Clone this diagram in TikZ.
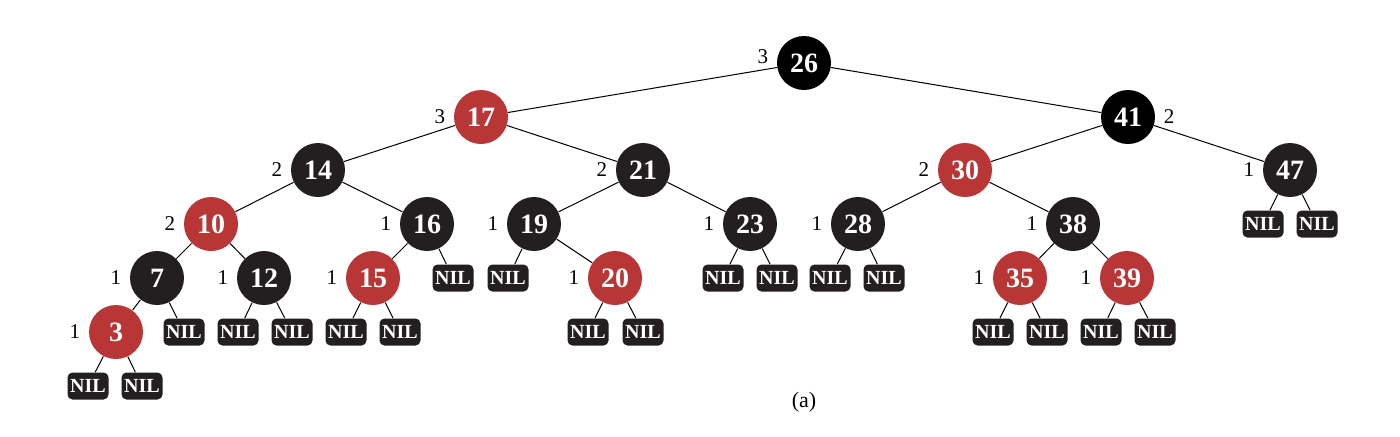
\documentclass[tikz,border=0pt]{standalone}
\usepackage{fontspec}
\setmainfont{Liberation Serif}
\definecolor{rbred}{RGB}{184,54,54}
\definecolor{rbdark}{RGB}{35,31,32}
\tikzset{
    rbnode/.style={circle, minimum size=27pt, inner sep=0pt, text=white,
        font=\fontsize{14}{14}\selectfont\bfseries},
    rednode/.style={rbnode, fill=rbred},
    blacknode/.style={rbnode, fill=rbdark},
    rootnode/.style={rbnode, fill=black},
    nilbox/.style={rectangle, rounded corners=2.5pt, fill=rbdark, text=white,
        minimum width=20.5pt, minimum height=13.5pt, inner sep=0pt,
        font=\fontsize{10}{10}\selectfont\bfseries},
    bh/.style={font=\fontsize{10.5}{10.5}\selectfont, inner sep=0pt, xshift=-4pt},
    bhr/.style={font=\fontsize{10.5}{10.5}\selectfont, inner sep=0pt, xshift=4pt},
    edge/.style={draw=black, line width=0.5pt}
}
\begin{document}
\begin{tikzpicture}[x=0.5pt, y=-0.5pt]
    \useasboundingbox (0,0) rectangle (1400,436);

    % Root
    \node[rootnode, label={[bh, yshift=3pt]left:3}] (n26) at (804,63) {26};

    % Level 1
    \node[rednode, label={[bh]left:3}] (n17) at (481,117) {17};
    \node[rootnode, label={[bhr]right:2}] (n41) at (1128,117) {41};

    % Level 2
    \node[blacknode, label={[bh]left:2}] (n14) at (318,170) {14};
    \node[blacknode, label={[bh]left:2}] (n21) at (643,170) {21};
    \node[rednode, label={[bh]left:2}] (n30) at (965,170) {30};
    \node[blacknode, label={[bh]left:1}] (n47) at (1290,170) {47};

    % Level 3
    \node[rednode, label={[bh]left:2}] (n10) at (211,224) {10};
    \node[blacknode, label={[bh]left:1}] (n16) at (427,224) {16};
    \node[blacknode, label={[bh]left:1}] (n19) at (534,224) {19};
    \node[blacknode, label={[bh]left:1}] (n23) at (750,224) {23};
    \node[blacknode, label={[bh]left:1}] (n28) at (858,224) {28};
    \node[blacknode, label={[bh]left:1}] (n38) at (1073,224) {38};

    % Level 4
    \node[blacknode, label={[bh]left:1}] (n7) at (157,278) {7};
    \node[blacknode, label={[bh]left:1}] (n12) at (264,278) {12};
    \node[rednode, label={[bh]left:1}] (n15) at (373,278) {15};
    \node[rednode, label={[bh]left:1}] (n20) at (615,278) {20};
    \node[rednode, label={[bh]left:1}] (n35) at (1020,278) {35};
    \node[rednode, label={[bh]left:1}] (n39) at (1127,278) {39};

    % Level 5
    \node[rednode, label={[bh]left:1}] (n3) at (116,332) {3};

    % NIL leaves
    \node[nilbox] (nil47a) at (1263,224) {NIL};
    \node[nilbox] (nil47b) at (1317,224) {NIL};
    \node[nilbox] (nil16) at (453,278) {NIL};
    \node[nilbox] (nil19) at (508,278) {NIL};
    \node[nilbox] (nil23a) at (723,278) {NIL};
    \node[nilbox] (nil23b) at (777,278) {NIL};
    \node[nilbox] (nil28a) at (830,278) {NIL};
    \node[nilbox] (nil28b) at (884,278) {NIL};
    \node[nilbox] (nil7) at (184,332) {NIL};
    \node[nilbox] (nil12a) at (238,332) {NIL};
    \node[nilbox] (nil12b) at (292,332) {NIL};
    \node[nilbox] (nil15a) at (346,332) {NIL};
    \node[nilbox] (nil15b) at (400,332) {NIL};
    \node[nilbox] (nil20a) at (588,332) {NIL};
    \node[nilbox] (nil20b) at (643,332) {NIL};
    \node[nilbox] (nil35a) at (993,332) {NIL};
    \node[nilbox] (nil35b) at (1047,332) {NIL};
    \node[nilbox] (nil39a) at (1101,332) {NIL};
    \node[nilbox] (nil39b) at (1155,332) {NIL};
    \node[nilbox] (nil3a) at (88,386) {NIL};
    \node[nilbox] (nil3b) at (142,386) {NIL};

    % Edges between keys
    \draw[edge] (n26) -- (n17);
    \draw[edge] (n26) -- (n41);
    \draw[edge] (n17) -- (n14);
    \draw[edge] (n17) -- (n21);
    \draw[edge] (n41) -- (n30);
    \draw[edge] (n41) -- (n47);
    \draw[edge] (n14) -- (n10);
    \draw[edge] (n14) -- (n16);
    \draw[edge] (n21) -- (n19);
    \draw[edge] (n21) -- (n23);
    \draw[edge] (n30) -- (n28);
    \draw[edge] (n30) -- (n38);
    \draw[edge] (n10) -- (n7);
    \draw[edge] (n10) -- (n12);
    \draw[edge] (n16) -- (n15);
    \draw[edge] (n19) -- (n20);
    \draw[edge] (n38) -- (n35);
    \draw[edge] (n38) -- (n39);
    \draw[edge] (n7) -- (n3);

    % Edges to NIL leaves
    \draw[edge] (n47) -- (nil47a);
    \draw[edge] (n47) -- (nil47b);
    \draw[edge] (n16) -- (nil16);
    \draw[edge] (n19) -- (nil19);
    \draw[edge] (n23) -- (nil23a);
    \draw[edge] (n23) -- (nil23b);
    \draw[edge] (n28) -- (nil28a);
    \draw[edge] (n28) -- (nil28b);
    \draw[edge] (n7) -- (nil7);
    \draw[edge] (n12) -- (nil12a);
    \draw[edge] (n12) -- (nil12b);
    \draw[edge] (n15) -- (nil15a);
    \draw[edge] (n15) -- (nil15b);
    \draw[edge] (n20) -- (nil20a);
    \draw[edge] (n20) -- (nil20b);
    \draw[edge] (n35) -- (nil35a);
    \draw[edge] (n35) -- (nil35b);
    \draw[edge] (n39) -- (nil39a);
    \draw[edge] (n39) -- (nil39b);
    \draw[edge] (n3) -- (nil3a);
    \draw[edge] (n3) -- (nil3b);

    % Caption
    \node[font=\fontsize{11}{11}\selectfont] (cap) at (804,402) {(a)};
\end{tikzpicture}
\end{document}
